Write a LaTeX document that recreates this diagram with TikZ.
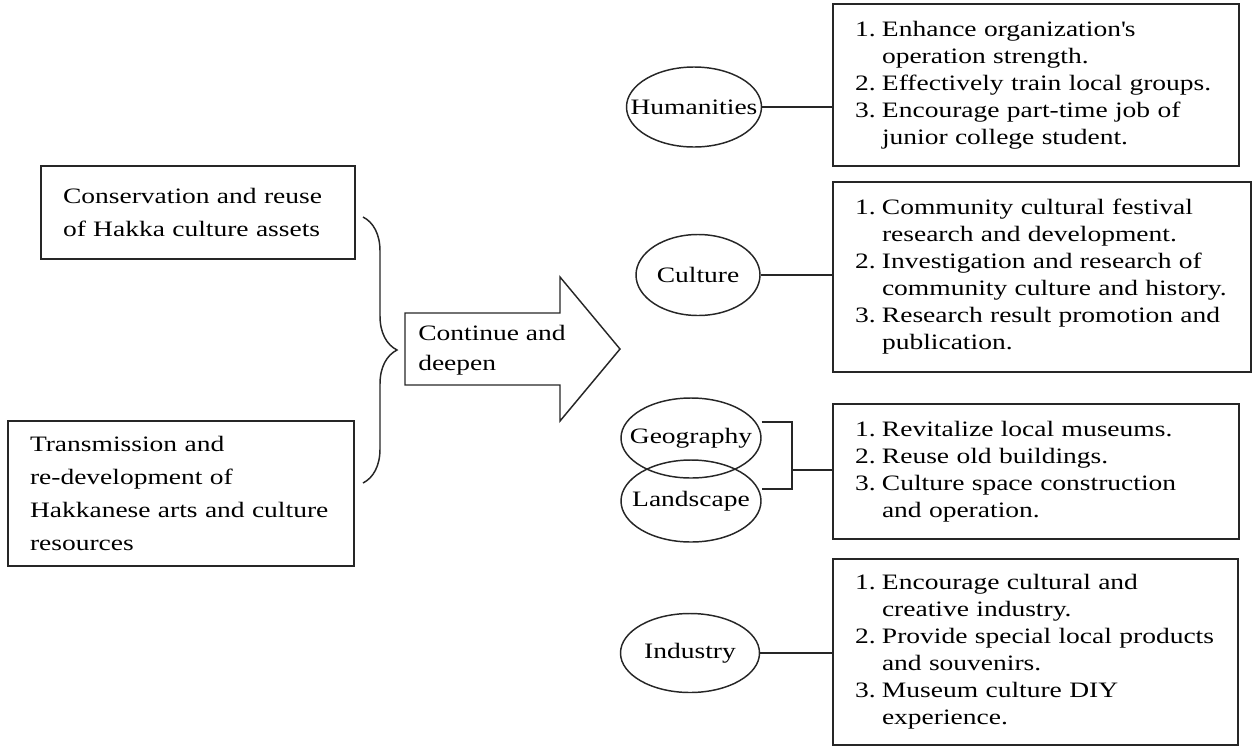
\documentclass[tikz,border=0pt]{standalone}
\usepackage{fontspec}
\setmainfont{Liberation Serif}[FakeStretch=1.25]
\usetikzlibrary{shapes.geometric,decorations.pathreplacing}

% numbered list lines: number column, and continuation lines
\newcommand{\numitem}[2]{\mbox{\makebox[20.25pt][l]{#1}#2}}
\newcommand{\contline}[1]{\mbox{\hspace*{20.25pt}#1}}

\tikzset{
  ln/.style={line width=1.1pt, draw=black!85},
  listbox/.style={ln, rectangle, inner xsep=16.5pt, inner ysep=0pt,
    align=left, font=\fontsize{16.5}{20.25}\selectfont},
  srcbox/.style={ln, rectangle, inner xsep=16.5pt, inner ysep=0pt,
    align=left, font=\fontsize{16.5}{24.75}\selectfont},
  topic/.style={ln, ellipse, inner sep=0pt, font=\fontsize{16.5}{20}\selectfont}
}

\begin{document}
\begin{tikzpicture}[x=0.75pt, y=-0.75pt]
\useasboundingbox (0,0) rectangle (1253,747);

% left-hand source boxes
\node[srcbox, minimum width=235.5pt, minimum height=69.75pt, text width=202.5pt] (cons) at (198,212.5)
  {Conservation and reuse\\of Hakka culture assets};
\node[srcbox, minimum width=259.5pt, minimum height=108.75pt, text width=226.5pt] (trans) at (181,493.5)
  {Transmission and\\re-development of\\Hakkanese arts and culture\\resources};

% brace joining the two sources
\coordinate (bt) at (363,217);
\coordinate (bb) at (363,483);
\draw[ln, decorate, decoration={brace, amplitude=25.5pt}] (bt) -- (bb);

% block arrow
\draw[ln] (405,313) -- (560,313) -- (560,277) -- (620,349) -- (560,421)
  -- (560,385) -- (405,385) -- cycle;
\node[anchor=west, inner sep=0pt, align=left, font=\fontsize{16.5}{22.5}\selectfont] (cont) at (418,350)
  {Continue and\\deepen};

% topic ellipses
\node[topic, minimum width=101.25pt, minimum height=60pt] (hum) at (694,107) {\makebox[0pt]{Humanities}};
\node[topic, minimum width=93pt, minimum height=60.75pt] (cul) at (698,275) {\makebox[0pt]{Culture}};
\node[topic, minimum width=105pt, minimum height=60pt] (geo) at (691,438) {\makebox[0pt]{Geography}};
\node[topic, minimum width=105pt, minimum height=61.5pt] (land) at (691,501) {\makebox[0pt]{Landscape}};
\node[topic, minimum width=104.25pt, minimum height=59.25pt] (ind) at (690,653) {\makebox[0pt]{Industry}};

% action lists
\node[listbox, minimum width=304.5pt, minimum height=121.5pt, text width=271.5pt] (hbox) at (1036,85)
  {\numitem{1.}{Enhance organization\textquotesingle s}\\
   \contline{operation strength.}\\
   \numitem{2.}{Effectively train local groups.}\\
   \numitem{3.}{Encourage part-time job of}\\
   \contline{junior college student.}};
\node[listbox, minimum width=313.5pt, minimum height=142.5pt, text width=280.5pt] (cbox) at (1042,277)
  {\numitem{1.}{Community cultural festival}\\
   \contline{research and development.}\\
   \numitem{2.}{Investigation and research of}\\
   \contline{community culture and history.}\\
   \numitem{3.}{Research result promotion and}\\
   \contline{publication.}};
\node[listbox, minimum width=304.5pt, minimum height=101.25pt, text width=271.5pt] (gbox) at (1036,471.5)
  {\numitem{1.}{Revitalize local museums.}\\
   \numitem{2.}{Reuse old buildings.}\\
   \numitem{3.}{Culture space construction}\\
   \contline{and operation.}};
\node[listbox, minimum width=303.75pt, minimum height=139.5pt, text width=270.75pt] (ibox) at (1035.5,652)
  {\numitem{1.}{Encourage cultural and}\\
   \contline{creative industry.}\\
   \numitem{2.}{Provide special local products}\\
   \contline{and souvenirs.}\\
   \numitem{3.}{Museum culture DIY}\\
   \contline{experience.}};

% connectors
\draw[ln] (hum.east) -- (hum.east -| hbox.west);
\draw[ln] (cul.east) -- (cul.east -| cbox.west);
\coordinate (jn) at (792,470);
\draw[ln] ([yshift=12pt]geo.east) -| (jn) |- ([yshift=9pt]land.east);
\draw[ln] (jn) -- (jn -| gbox.west);
\draw[ln] (ind.east) -- (ind.east -| ibox.west);
\end{tikzpicture}
\end{document}
